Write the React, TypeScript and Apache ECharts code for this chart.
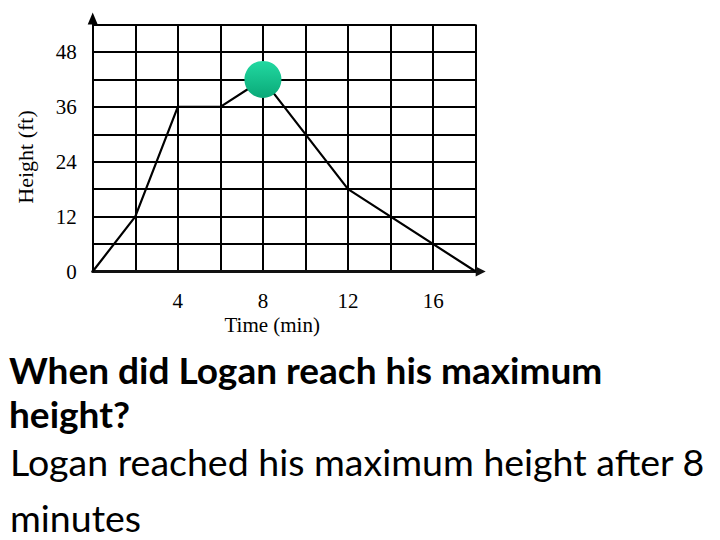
import React, { useEffect, useRef } from "react";
import * as echarts from "echarts";

// ---- data ----
const timeMin = [0, 2, 4, 6, 8, 12, 18];
const heightFt = [0, 12, 36, 36, 42, 18, 0];
const maxPoint = [8, 42];
const xTickLabels = [4, 8, 12, 16];
const yTickLabels = [0, 12, 24, 36, 48];
const xAxisTitle = "Time (min)";
const yAxisTitle = "Height (ft)";
const questionLines = ["When did Logan reach his maximum", "height?"];
const answerLines = ["Logan reached his maximum height after 8", "minutes"];

const SERIF = "'Liberation Serif', 'Times New Roman', serif";
const SANS = "Lato, 'Noto Sans', sans-serif";

export default function App() {
  const ref = useRef<HTMLDivElement>(null);

  useEffect(() => {
    document.body.style.margin = "0";
    if (!ref.current) return;
    const chart = echarts.init(ref.current, undefined, { renderer: "svg" });

    const lineData = timeMin.map((t, i) => [t, heightFt[i]]);

    chart.setOption({
      animation: false,
      backgroundColor: "#ffffff",
      grid: { left: 92.7, right: 244.3, top: 24.5, bottom: 268.5, containLabel: false },
      xAxis: {
        type: "value",
        min: 0,
        max: 18,
        interval: 2,
        name: xAxisTitle,
        nameLocation: "middle",
        nameGap: 43,
        nameTextStyle: { fontFamily: SERIF, fontSize: 21, color: "#000", padding: [0, 24, 0, 0] },
        axisLine: {
          show: true,
          onZero: false,
          symbol: ["none", "triangle"],
          symbolSize: [10, 10],
          symbolOffset: [0, 5],
          lineStyle: { color: "#111", width: 3 },
        },
        axisTick: { show: false },
        axisLabel: {
          margin: 19,
          fontFamily: SERIF,
          fontSize: 21,
          color: "#000",
          formatter: (v: number) => (xTickLabels.includes(v) ? String(v) : ""),
        },
        splitLine: { show: true, lineStyle: { color: "#000", width: 2 } },
      },
      yAxis: {
        type: "value",
        min: 0,
        max: 54,
        interval: 6,
        name: yAxisTitle,
        nameLocation: "middle",
        nameGap: 56,
        nameTextStyle: { fontFamily: SERIF, fontSize: 22, color: "#000", padding: [0, 18, 0, 0] },
        axisLine: {
          show: true,
          symbol: ["none", "triangle"],
          symbolSize: [10, 12],
          symbolOffset: [0, 6],
          lineStyle: { color: "#000", width: 2 },
        },
        axisTick: { show: false },
        axisLabel: {
          margin: 16,
          fontFamily: SERIF,
          fontSize: 21,
          color: "#000",
          formatter: (v: number) => (yTickLabels.includes(v) ? String(v) : ""),
        },
        splitLine: { show: true, lineStyle: { color: "#000", width: 2 } },
      },
      series: [
        {
          type: "line",
          data: lineData,
          symbol: "none",
          lineStyle: { color: "#000", width: 2.2 },
          z: 3,
        },
        {
          type: "scatter",
          data: [maxPoint],
          symbol: "circle",
          symbolSize: 37,
          itemStyle: {
            opacity: 1,
            color: new echarts.graphic.LinearGradient(0, 0, 0, 1, [
              { offset: 0, color: "#22d9a1" },
              { offset: 1, color: "#0aa978" },
            ]),
          },
          z: 4,
        },
      ],
      graphic: [
        {
          type: "text",
          left: 9,
          top: 347,
          style: {
            text: questionLines.join("\n"),
            font: `bold 37px ${SANS}`,
            lineHeight: 44.5,
            fill: "#000",
          },
        },
        {
          type: "text",
          left: 10,
          top: 433,
          style: {
            text: answerLines.join("\n"),
            font: `37.5px ${SANS}`,
            lineHeight: 56,
            fill: "#000",
          },
        },
      ],
    });

    return () => chart.dispose();
  }, []);

  return <div ref={ref} style={{ width: 720, height: 540 }} />;
}
